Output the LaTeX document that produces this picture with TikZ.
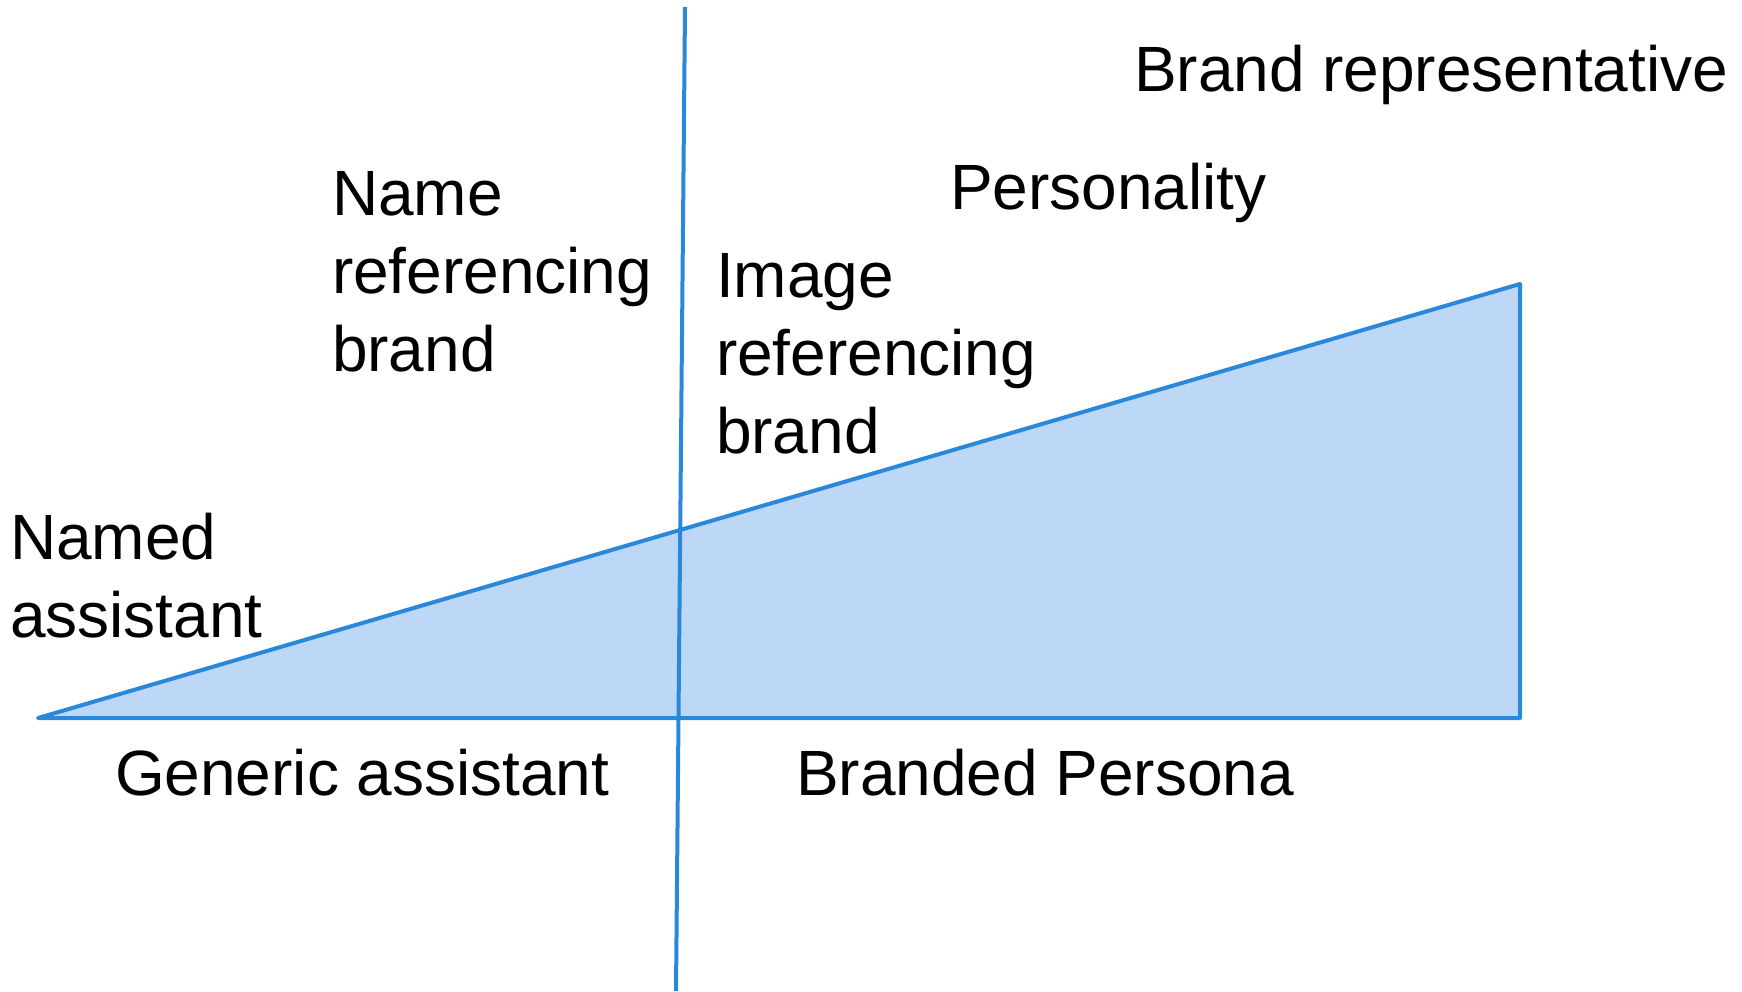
\documentclass[tikz,border=0pt]{standalone}
\usepackage{fontspec}
\setmainfont{Liberation Sans}
\usetikzlibrary{positioning}
\definecolor{lineblue}{HTML}{2A88DA}
\definecolor{fillblue}{HTML}{BCD8F6}

\begin{document}
\begin{tikzpicture}[x=1pt,y=-1pt,line width=4pt,
                    label/.style={font=\fontsize{64}{78}\selectfont,inner sep=0pt,align=left}]
  \useasboundingbox (0,0) rectangle (1742,991);

  \coordinate (L) at (38,718);
  \coordinate (R) at (1520,718);
  \coordinate (T) at (1520,284);
  \coordinate (up) at (685,7);
  \coordinate (down) at (676,991);

  \fill[fillblue] (L) -- (R) -- (T) -- cycle;
  \draw[lineblue,line join=round,line cap=round] (L) -- (R) -- (T) -- cycle;
  \draw[lineblue] (up) -- (down);

  \node[label,anchor=west] (rep)     at (1132,75)  {Brand representative};
  \node[label,anchor=west] (pers)    at (948,193)  {Personality};
  \node[label,anchor=north west] (name)  at (330,169) {Name\\referencing\\brand};
  \node[label,anchor=north west] (image) at (714,251) {Image\\referencing\\brand};
  \node[label,anchor=north west] (named) at (8,511)  {Named\\assistant};
  \node[label,anchor=west] (generic) at (113,773)  {Generic assistant};
  \node[label,anchor=west] (branded) at (794,773)  {Branded Persona};
\end{tikzpicture}
\end{document}
